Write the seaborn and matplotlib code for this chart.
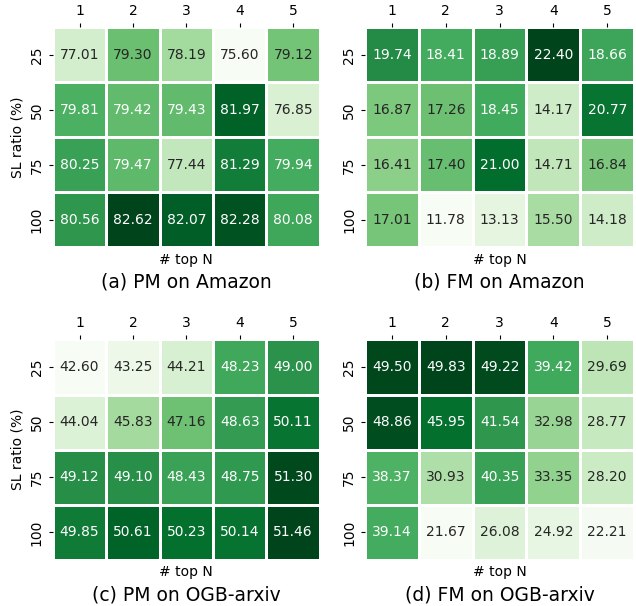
import numpy as np
import seaborn as sns
import matplotlib.pyplot as plt

top_n = ["1", "2", "3", "4", "5"]
sl_ratio = ["25", "50", "75", "100"]

pm_amazon = [[77.01, 79.30, 78.19, 75.60, 79.12],
             [79.81, 79.42, 79.43, 81.97, 76.85],
             [80.25, 79.47, 77.44, 81.29, 79.94],
             [80.56, 82.62, 82.07, 82.28, 80.08]]
fm_amazon = [[19.74, 18.41, 18.89, 22.40, 18.66],
             [16.87, 17.26, 18.45, 14.17, 20.77],
             [16.41, 17.40, 21.00, 14.71, 16.84],
             [17.01, 11.78, 13.13, 15.50, 14.18]]
pm_arxiv = [[42.60, 43.25, 44.21, 48.23, 49.00],
            [44.04, 45.83, 47.16, 48.63, 50.11],
            [49.12, 49.10, 48.43, 48.75, 51.30],
            [49.85, 50.61, 50.23, 50.14, 51.46]]
fm_arxiv = [[49.50, 49.83, 49.22, 39.42, 29.69],
            [48.86, 45.95, 41.54, 32.98, 28.77],
            [38.37, 30.93, 40.35, 33.35, 28.20],
            [39.14, 21.67, 26.08, 24.92, 22.21]]

panels = [(pm_amazon, "(a) PM on Amazon"),
          (fm_amazon, "(b) FM on Amazon"),
          (pm_arxiv, "(c) PM on OGB-arxiv"),
          (fm_arxiv, "(d) FM on OGB-arxiv")]

fig = plt.figure(figsize=(6.36, 6.06), dpi=100)
# axes boxes: left, bottom, width, height
boxes = [[0.083, 0.592, 0.420, 0.363],
         [0.574, 0.592, 0.423, 0.363],
         [0.083, 0.076, 0.420, 0.364],
         [0.574, 0.076, 0.423, 0.364]]

for i, ((vals, caption), box) in enumerate(zip(panels, boxes)):
    ax = fig.add_axes(box)
    sns.heatmap(np.array(vals), ax=ax, cmap="Greens", annot=True, fmt=".2f",
                cbar=False, linewidths=2, linecolor="white",
                xticklabels=top_n, yticklabels=sl_ratio,
                annot_kws={"fontsize": 10})
    ax.xaxis.tick_top()
    ax.tick_params(axis="x", labelsize=10, length=3, rotation=0)
    ax.tick_params(axis="y", labelsize=10, length=3, rotation=90)
    for lbl in ax.get_yticklabels():
        lbl.set_va("center")
    ax.set_xlabel("# top N", fontsize=10, labelpad=4)
    if i % 2 == 0:
        ax.set_ylabel("SL ratio (%)", fontsize=10)
    ax.text(0.5, -0.16, caption, transform=ax.transAxes, ha="center",
            va="center", fontsize=13.5)

plt.savefig("out.png", dpi=100)
